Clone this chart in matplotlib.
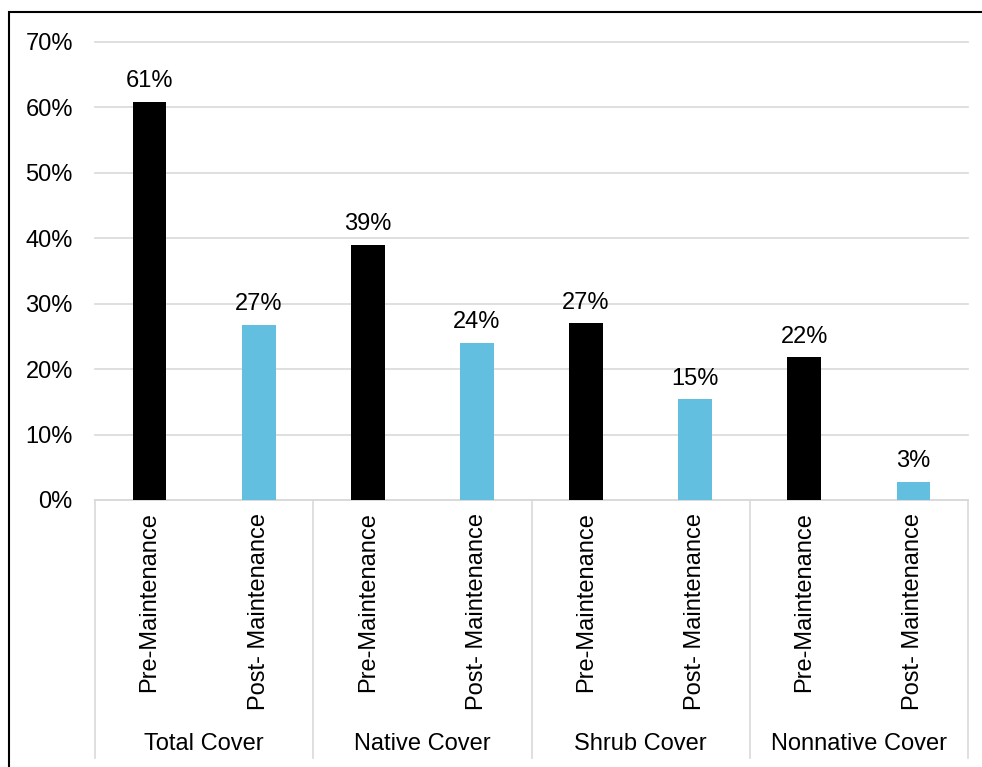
import matplotlib
matplotlib.use("Agg")
import matplotlib.pyplot as plt
from matplotlib.patches import Rectangle
from matplotlib.ticker import MultipleLocator, PercentFormatter
import matplotlib.transforms as mtransforms

groups = ["Total Cover", "Native Cover", "Shrub Cover", "Nonnative Cover"]
phases = ["Pre-Maintenance", "Post- Maintenance"]
pre_values = [0.608, 0.390, 0.270, 0.218]
post_values = [0.268, 0.240, 0.154, 0.028]

plt.rcParams["font.family"] = ["Liberation Sans", "DejaVu Sans"]
plt.rcParams["font.size"] = 17

black = "#000000"
blue = "#62BFDF"
grid_gray = "#D9D9D9"

fig = plt.figure(figsize=(9.82, 7.67), dpi=100)
W, H = 982, 767
ax = fig.add_axes([95 / W, 1 - 500 / H, (968 - 95) / W, (500 - 42) / H])

# outer chart frame (cropped on right and bottom like the reference)
fig.patches.append(Rectangle((9 / W, -0.05), 1.2, 1 - 12 / H + 0.05,
                             transform=fig.transFigure, fill=False,
                             edgecolor="black", linewidth=1.5))

values, colors, labels = [], [], []
for pre, post in zip(pre_values, post_values):
    values += [pre, post]
    colors += [black, blue]
    labels += phases

x = list(range(len(values)))
bars = ax.bar(x, values, width=0.31, color=colors, zorder=3)
for b, v in zip(bars, values):
    ax.annotate(f"{v:.0%}", (b.get_x() + b.get_width() / 2, v),
                xytext=(0, 7), textcoords="offset points",
                ha="center", va="bottom", fontsize=17)

ax.set_xlim(-0.5, len(values) - 0.5)
ax.set_ylim(0, 0.70)
ax.yaxis.set_major_locator(MultipleLocator(0.10))
ax.yaxis.set_major_formatter(PercentFormatter(1.0, decimals=0))
ax.grid(axis="y", color=grid_gray, linewidth=1.2, zorder=0)
for line in ax.get_ygridlines():
    line.set_clip_on(False)
ax.tick_params(axis="y", length=0, pad=16)
ax.tick_params(axis="x", length=0, pad=9)
ax.set_xticks(x)
ax.set_xticklabels(labels, rotation=90, va="top", ha="center")

for side in ["left", "right", "top"]:
    ax.spines[side].set_visible(False)
ax.spines["bottom"].set_color(grid_gray)
ax.spines["bottom"].set_linewidth(1.2)

# second level of the category axis
trans = mtransforms.blended_transform_factory(ax.transData, fig.transFigure)
for i in range(len(groups) + 1):
    xs = i * 2 - 0.5
    ax.plot([xs, xs], [1 - 500 / H, 1 - 758 / H], transform=trans,
            color=grid_gray, linewidth=1.2, clip_on=False)
for i, g in enumerate(groups):
    ax.text(i * 2 + 0.5, 1 - 744 / H, g, transform=trans,
            ha="center", va="center", fontsize=17)

fig.savefig("out.png", dpi=100)
